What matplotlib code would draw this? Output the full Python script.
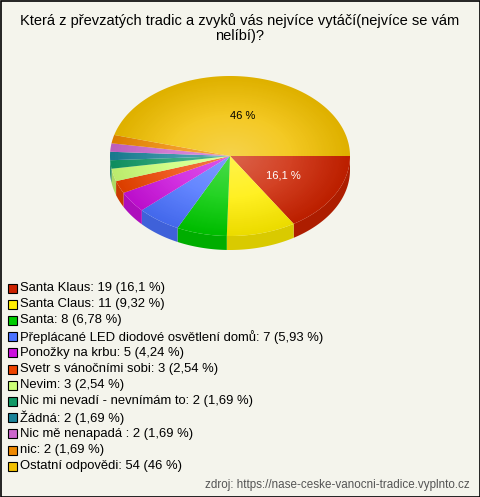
import numpy as np
import matplotlib.pyplot as plt
from matplotlib.patches import Polygon, Rectangle, Ellipse
import matplotlib.colors as mcolors

plt.rcParams['font.family'] = ['Liberation Sans', 'DejaVu Sans']

title = "Která z převzatých tradic a zvyků vás nejvíce vytáčí(nejvíce se vám\nnelíbí)?"
labels = ["Santa Klaus", "Santa Claus", "Santa", "Přeplácané LED diodové osvětlení domů",
          "Ponožky na krbu", "Svetr s vánočními sobi", "Nevim", "Nic mi nevadí - nevnímám to",
          "Žádná", "Nic mě nenapadá ", "nic", "Ostatní odpovědi"]
values = [19, 11, 8, 7, 5, 3, 3, 2, 2, 2, 2, 54]
pcts = ["16,1", "9,32", "6,78", "5,93", "4,24", "2,54", "2,54", "1,69", "1,69", "1,69", "1,69", "46"]
colors = ["#cc2200", "#ffee00", "#00cc00", "#4a72ff", "#cc11dd", "#ee4400", "#ccff77",
          "#119966", "#1a8399", "#cc66cc", "#ee8800", "#f2c000"]
source = "zdroj: https://nase-ceske-vanocni-tradice.vyplnto.cz"

bg = "#f4f4ec"
fig = plt.figure(figsize=(4.8, 4.97), dpi=100, facecolor=bg)
ax = fig.add_axes([0, 0, 1, 1])
ax.set_xlim(0, 480)
ax.set_ylim(497, 0)
ax.axis('off')

cx, cy, rx, ry, depth = 230, 156, 120, 80, 14

def darker(c, f):
    r, g, b = mcolors.to_rgb(c)
    return (r * f, g * f, b * f)

total = sum(values)
fracs = np.array(values) / total
ends = np.cumsum(fracs) * 360
starts = ends - fracs * 360

# side walls (visible front half, 0..180 deg, y down)
for s, e, c in zip(starts, ends, colors):
    a1, a2 = max(s, 0), min(e, 180)
    if a2 <= a1:
        continue
    t = np.radians(np.linspace(a1, a2, 60))
    xs = cx + rx * np.cos(t)
    ys = cy + ry * np.sin(t)
    pts = np.column_stack([np.r_[xs, xs[::-1]], np.r_[ys, ys[::-1] + depth]])
    ax.add_patch(Polygon(pts, closed=True, facecolor=darker(c, 0.85), edgecolor='none', zorder=2))

# top wedges
for s, e, c in zip(starts, ends, colors):
    t = np.radians(np.linspace(s, e, 100))
    pts = np.column_stack([np.r_[cx, cx + rx * np.cos(t)], np.r_[cy, cy + ry * np.sin(t)]])
    ax.add_patch(Polygon(pts, closed=True, facecolor=c, edgecolor='none', zorder=3))

# radial highlight on top
n = 200
gx, gy = np.meshgrid(np.linspace(-1, 1, n), np.linspace(-1, 1, n))
rr = np.sqrt(gx ** 2 + gy ** 2)
img = np.zeros((n, n, 4))
img[..., :3] = 1.0
img[..., 3] = np.clip(0.3 * (1 - rr), 0, 1)
shade = np.zeros((n, n, 4))
shade[..., 3] = np.clip(0.08 * (rr - 0.5) / 0.5, 0, 1)
clip = Ellipse((cx, cy), 2 * rx, 2 * ry, transform=ax.transData)
for im_data in (img, shade):
    im = ax.imshow(im_data, extent=(cx - rx, cx + rx, cy + ry, cy - ry), zorder=4,
                   interpolation='bilinear')
    im.set_clip_path(clip)
ax.set_xlim(0, 480)
ax.set_ylim(497, 0)
ax.set_aspect('auto')

# slice labels
ax.text(243, 116, pcts[11] + " %", ha='center', va='center', fontsize=8, color='black', zorder=5)
ax.text(283, 175, pcts[0] + " %", ha='center', va='center', fontsize=8, color='white', zorder=5)

# title
ax.text(240, 28, title, ha='center', va='center', fontsize=10.5, linespacing=1.15)

# legend
y0, dy = 288, 16.2
for i, (lab, v, p, c) in enumerate(zip(labels, values, pcts, colors)):
    y = y0 + i * dy
    ax.add_patch(Rectangle((8, y - 4.5), 9, 9, facecolor=c, edgecolor='black', lw=0.8))
    ax.text(20, y, f"{lab}: {v} ({p} %)", ha='left', va='center', fontsize=9.4)

ax.text(470, 485, source, ha='right', va='center', fontsize=8.4, color='#555555')

ax.add_patch(Rectangle((0.5, 0.5), 479, 496, facecolor='none', edgecolor='black', lw=1.2, zorder=10))

fig.savefig("out.png", dpi=100, facecolor=bg)
